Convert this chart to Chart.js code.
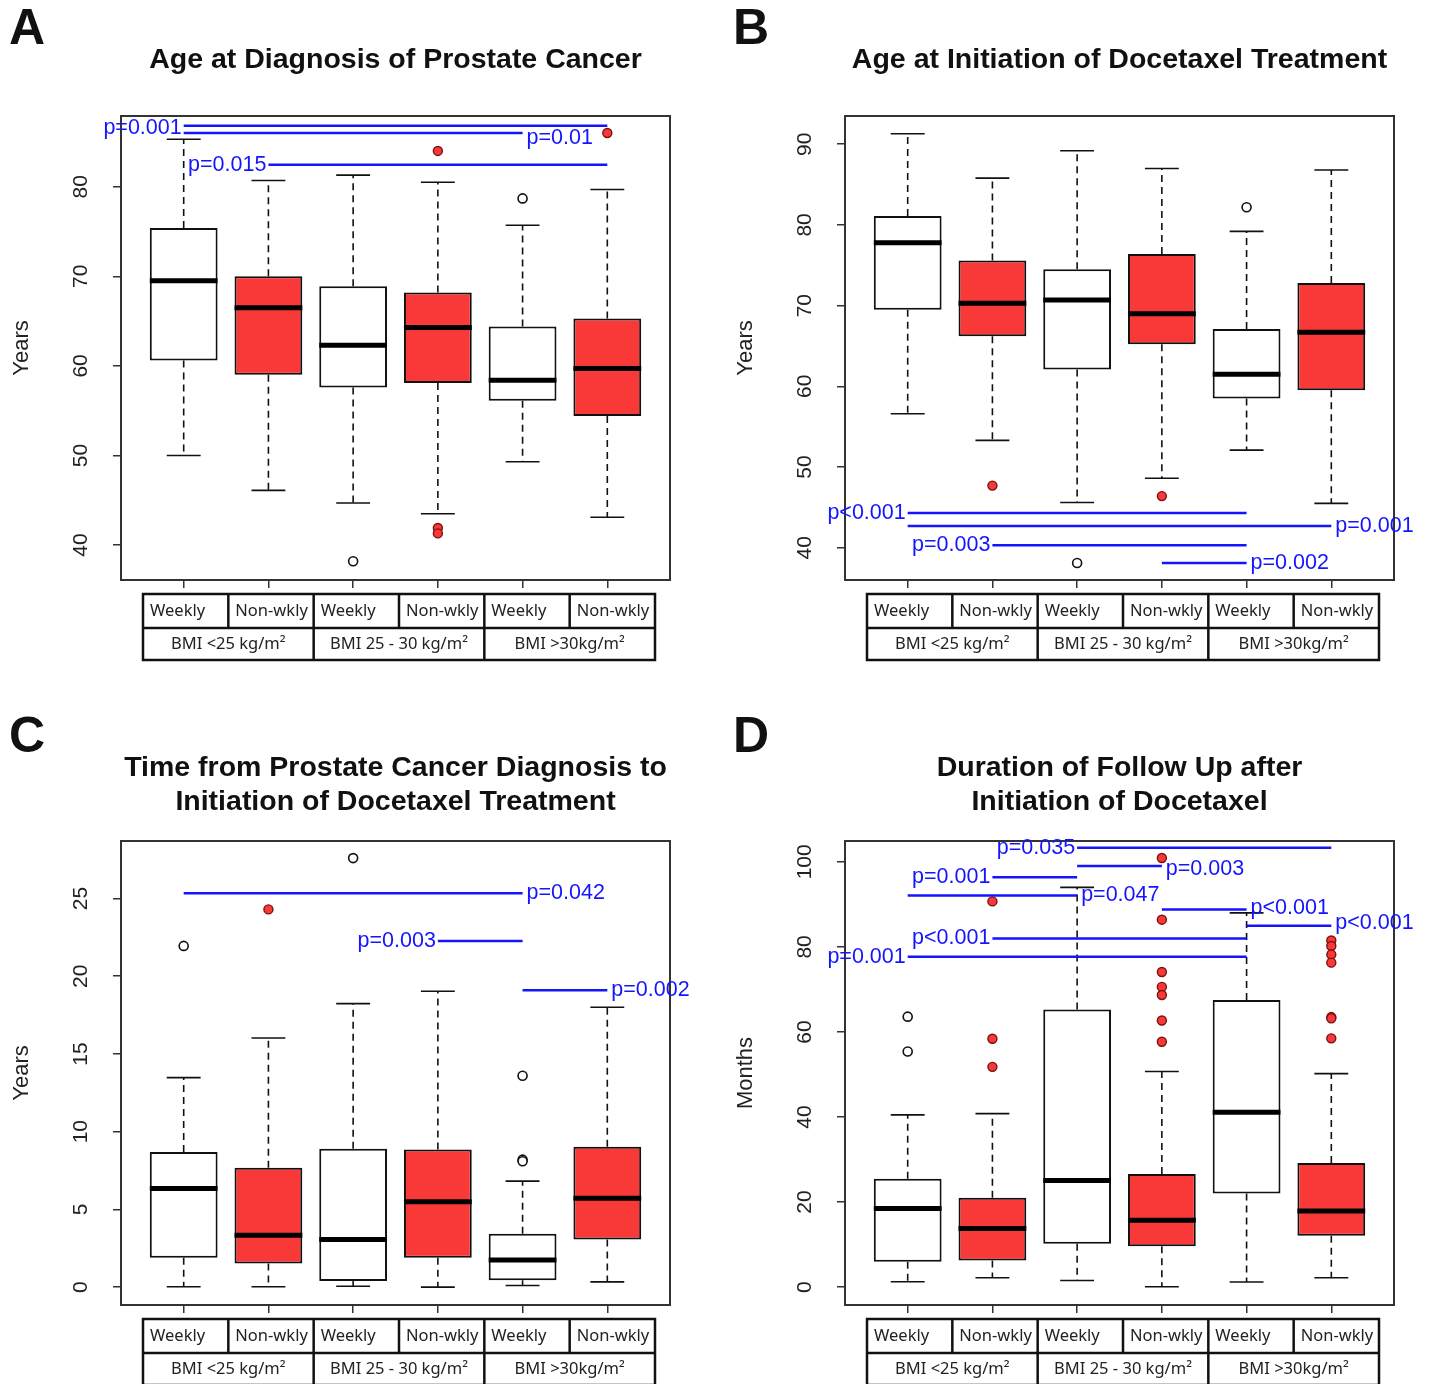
<!DOCTYPE html>
<html>
<head>
<meta charset="utf-8">
<script src="https://cdn.jsdelivr.net/npm/chart.js@4.4.1/dist/chart.umd.min.js"></script>
<style>
  html, body { margin: 0; padding: 0; background: #fff; }
  body { position: relative; width: 1429px; height: 1384px; overflow: hidden; }
  canvas { position: absolute; }
</style>
</head>
<body>
<canvas id="panelA" width="715" height="692" style="left:0;top:0"></canvas>
<canvas id="panelB" width="714" height="692" style="left:715px;top:0"></canvas>
<canvas id="panelC" width="715" height="692" style="left:0;top:692px"></canvas>
<canvas id="panelD" width="714" height="692" style="left:715px;top:692px"></canvas>
<script>
// groups along the x axis
const groups = ["Weekly", "Non-wkly", "Weekly", "Non-wkly", "Weekly", "Non-wkly"];
const bmiClasses = ["BMI <25 kg/m²", "BMI 25 - 30 kg/m²", "BMI >30kg/m²"];
const positions = [1, 2, 3, 4, 5, 6];

// A - age at diagnosis
const ageDxLower = [50.0, 46.1, 44.7, 43.5, 49.3, 43.1];
const ageDxQ1 = [60.6, 59.0, 57.6, 58.1, 56.1, 54.4];
const ageDxMedian = [69.5, 66.5, 62.3, 64.3, 58.4, 59.7];
const ageDxQ3 = [75.4, 70.0, 68.9, 68.2, 64.4, 65.3];
const ageDxUpper = [85.3, 80.7, 81.3, 80.5, 75.7, 79.7];
const ageDxOutliers = [[], [], [38.2], [84.0, 41.9, 41.3], [78.7], [86.0]];
const ageDxTicks = [40, 50, 60, 70, 80];
// [y, from, to, label, side, labelY]
const ageDxPvalues = [
  [86.8, 1, 6, "p=0.001", "left", 86.6],
  [86.0, 1, 5, "p=0.01", "right", 85.4],
  [82.45, 2, 6, "p=0.015", "left", 82.45]
];

// B - age at docetaxel
const ageDocLower = [56.6, 53.3, 45.6, 48.6, 52.1, 45.5];
const ageDocQ1 = [69.5, 66.2, 62.1, 65.2, 58.5, 59.5];
const ageDocMedian = [77.8, 70.3, 70.7, 69.0, 61.5, 66.7];
const ageDocQ3 = [81.1, 75.6, 74.5, 76.4, 67.1, 72.8];
const ageDocUpper = [91.3, 85.8, 89.2, 87.0, 79.2, 86.8];
const ageDocOutliers = [[], [47.7], [38.1], [46.4], [82.2], []];
const ageDocTicks = [40, 50, 60, 70, 80, 90];
const ageDocPvalues = [
  [44.3, 1, 5, "p<0.001", "left", 44.3],
  [42.7, 1, 6, "p=0.001", "right", 42.7],
  [40.3, 2, 5, "p=0.003", "left", 40.3],
  [38.1, 4, 5, "p=0.002", "right", 38.1]
];

// C - time from diagnosis to docetaxel
const timeLower = [0.02, 0.02, 0.06, 0.0, 0.1, 0.34];
const timeQ1 = [1.89, 1.52, 0.39, 1.89, 0.45, 3.07];
const timeMedian = [6.35, 3.33, 3.07, 5.49, 1.74, 5.71];
const timeQ3 = [8.69, 7.68, 8.9, 8.86, 3.43, 9.03];
const timeUpper = [13.48, 16.03, 18.24, 19.03, 6.82, 18.0];
const timeOutliers = [[21.95], [24.3], [27.6], [], [8.2, 8.1, 13.6], []];
const timeTicks = [0, 5, 10, 15, 20, 25];
const timePvalues = [
  [25.34, 1, 5, "p=0.042", "right", 25.34],
  [22.27, 4, 5, "p=0.003", "left", 22.27],
  [19.1, 5, 6, "p=0.002", "right", 19.1]
];

// D - follow up
const followLower = [1.25, 2.2, 1.57, 0.08, 1.2, 2.2];
const followQ1 = [5.96, 6.27, 10.2, 9.6, 22.0, 12.1];
const followMedian = [18.5, 13.8, 25.1, 15.7, 41.1, 17.9];
const followQ3 = [25.5, 21.0, 65.3, 26.6, 67.5, 29.2];
const followUpper = [40.5, 40.8, 94.0, 50.7, 88.0, 50.2];
const followOutliers = [[63.6, 55.4], [58.4, 51.8, 90.7], [], [100.9, 86.4, 74.1, 70.6, 68.7, 62.7, 57.7], [], [81.5, 80.2, 78.2, 76.3, 63.5, 63.2, 58.5]];
const followTicks = [0, 20, 40, 60, 80, 100];
const followPvalues = [
  [103.3, 3, 6, "p=0.035", "left", 103.3],
  [99.0, 3, 4, "p=0.003", "right", 98.4],
  [96.4, 2, 3, "p=0.001", "left", 96.4],
  [92.1, 1, 3, "p=0.047", "right", 92.1],
  [88.8, 4, 5, "p<0.001", "right", 89.2],
  [85.0, 5, 6, "p<0.001", "right", 85.5],
  [82.0, 2, 5, "p<0.001", "left", 82.0],
  [77.7, 1, 5, "p=0.001", "left", 77.7]
];

const RED = "#f93838";
const BLUE = "#1414ff";

function segs(list) {
  // list of [x1, y1, x2, y2] -> line data with gaps
  const out = [];
  list.forEach(s => {
    out.push({ x: s[0], y: s[1] }, { x: s[2], y: s[3] }, { x: s[2], y: null });
  });
  return out;
}

const panelDecor = {
  id: "panelDecor",
  afterDraw(chart) {
    const o = chart.options.plugins.panelDecor;
    const ctx = chart.ctx;
    const ca = chart.chartArea;
    const y = chart.scales.y;
    const x = chart.scales.x;
    ctx.save();

    // frame
    ctx.strokeStyle = "#333";
    ctx.lineWidth = 2;
    ctx.strokeRect(ca.left, ca.top, ca.right - ca.left, ca.bottom - ca.top);

    // y tick labels, rotated like R
    ctx.fillStyle = "#222";
    ctx.font = "21px 'Liberation Sans', Arial, sans-serif";
    ctx.textAlign = "center";
    ctx.textBaseline = "middle";
    o.ticks.forEach(v => {
      ctx.save();
      ctx.translate(ca.left - 40, y.getPixelForValue(v));
      ctx.rotate(-Math.PI / 2);
      ctx.fillText(String(v), 0, 0);
      ctx.restore();
    });

    // y title
    ctx.save();
    ctx.font = "22px 'Liberation Sans', Arial, sans-serif";
    ctx.translate(ca.left - 99, (ca.top + ca.bottom) / 2);
    ctx.rotate(-Math.PI / 2);
    ctx.fillText(o.yTitle, 0, 0);
    ctx.restore();

    // title
    ctx.fillStyle = "#111";
    ctx.font = "bold 28.5px 'Liberation Sans', Arial, sans-serif";
    const cx = (ca.left + ca.right) / 2;
    const offs = o.title.length === 1 ? [-56] : [-73, -39];
    o.title.forEach((t, i) => ctx.fillText(t, cx, ca.top + offs[i]));

    // panel letter
    ctx.font = "bold 50px 'Liberation Sans', Arial, sans-serif";
    ctx.textAlign = "left";
    ctx.fillText(o.letter, o.letterX, o.letterY);

    // p values
    ctx.fillStyle = BLUE;
    ctx.font = "21.5px 'Liberation Sans', Arial, sans-serif";
    o.pvalues.forEach(p => {
      const py = y.getPixelForValue(p[5]);
      if (p[4] === "left") {
        ctx.textAlign = "right";
        ctx.fillText(p[3], x.getPixelForValue(p[1]) - 2, py);
      } else {
        ctx.textAlign = "left";
        ctx.fillText(p[3], x.getPixelForValue(p[2]) + 4, py);
      }
    });

    // group table under the axis
    const tl = ca.left + 22, tr = ca.right - 15;
    const r0 = ca.bottom + 14, r1 = ca.bottom + 48, r2 = ca.bottom + 80;
    const cw = (tr - tl) / 6;
    ctx.strokeStyle = "#111";
    ctx.lineWidth = 2.5;
    ctx.strokeRect(tl, r0, tr - tl, r2 - r0);
    ctx.beginPath();
    ctx.moveTo(tl, r1); ctx.lineTo(tr, r1);
    for (let i = 1; i < 6; i++) {
      const xx = tl + cw * i;
      ctx.moveTo(xx, r0);
      ctx.lineTo(xx, i % 2 === 0 ? r2 : r1);
    }
    ctx.stroke();
    ctx.fillStyle = "#222";
    ctx.font = "16.5px 'Noto Sans', 'Open Sans', sans-serif";
    ctx.textAlign = "left";
    groups.forEach((g, i) => ctx.fillText(g, tl + cw * i + 7, (r0 + r1) / 2));
    ctx.textAlign = "center";
    bmiClasses.forEach((b, i) => ctx.fillText(b, tl + cw * (2 * i + 1), (r1 + r2) / 2));

    ctx.restore();
  }
};

function makePanel(id, d) {
  const fills = positions.map((_, i) => (i % 2 === 0 ? "#ffffff" : RED));
  const whiskers = [], caps = [], medians = [];
  positions.forEach((p, i) => {
    whiskers.push([p, d.q3[i], p, d.upper[i]], [p, d.q1[i], p, d.lower[i]]);
    caps.push([p - 0.2, d.upper[i], p + 0.2, d.upper[i]], [p - 0.2, d.lower[i], p + 0.2, d.lower[i]]);
    medians.push([p - 0.4, d.median[i], p + 0.4, d.median[i]]);
  });
  const openPts = [], redPts = [];
  d.outliers.forEach((vals, i) => {
    vals.forEach(v => (i % 2 === 0 ? openPts : redPts).push({ x: positions[i], y: v }));
  });
  const pLines = d.pvalues.map(p => [p[1], p[0], p[2], p[0]]);

  new Chart(document.getElementById(id), {
    type: "bar",
    data: {
      datasets: [
        {
          type: "line", data: segs(pLines), borderColor: BLUE, borderWidth: 2.5,
          pointRadius: 0, spanGaps: false, order: 1
        },
        {
          type: "scatter", data: openPts, backgroundColor: "#fff", borderColor: "#111",
          borderWidth: 1.6, pointRadius: 4.5, order: 2
        },
        {
          type: "scatter", data: redPts, backgroundColor: RED, borderColor: "#7a1010",
          borderWidth: 1.4, pointRadius: 4.5, order: 2
        },
        {
          type: "line", data: segs(medians), borderColor: "#000", borderWidth: 5,
          borderCapStyle: "butt", pointRadius: 0, spanGaps: false, order: 3
        },
        {
          type: "line", data: segs(caps), borderColor: "#111", borderWidth: 1.6,
          pointRadius: 0, spanGaps: false, order: 3
        },
        {
          type: "line", data: segs(whiskers), borderColor: "#111", borderWidth: 1.6,
          borderDash: [7, 5], pointRadius: 0, spanGaps: false, order: 4
        },
        {
          type: "bar",
          data: positions.map((p, i) => ({ x: p, y: [d.q1[i], d.q3[i]] })),
          backgroundColor: fills, borderColor: "#111", borderWidth: 2,
          borderSkipped: false, barPercentage: 1, categoryPercentage: 0.8, order: 5
        }
      ]
    },
    options: {
      responsive: false,
      animation: false,
      events: [],
      layout: { padding: d.padding, autoPadding: false },
      plugins: {
        legend: { display: false },
        tooltip: { enabled: false },
        panelDecor: {
          ticks: d.ticks, yTitle: d.yTitle, title: d.title, letter: d.letter,
          letterX: d.letterX, letterY: d.letterY, pvalues: d.pvalues
        }
      },
      scales: {
        x: {
          type: "linear", min: 0.26, max: 6.74, offset: false,
          afterBuildTicks: s => { s.ticks = positions.map(v => ({ value: v })); },
          afterFit: s => { s.height = 10; },
          ticks: { display: false },
          border: { display: false },
          grid: { offset: false, drawOnChartArea: false, drawTicks: true, tickLength: 8, color: "#333", lineWidth: 1.5 }
        },
        y: {
          min: d.min, max: d.max,
          afterBuildTicks: s => { s.ticks = d.ticks.map(v => ({ value: v })); },
          afterFit: s => { s.width = 60; },
          ticks: { display: false },
          border: { display: false },
          grid: { drawOnChartArea: false, drawTicks: true, tickLength: 8, color: "#333", lineWidth: 1.5 }
        }
      }
    },
    plugins: [panelDecor]
  });
}

document.addEventListener("DOMContentLoaded", () => {
  makePanel("panelA", {
    lower: ageDxLower, q1: ageDxQ1, median: ageDxMedian, q3: ageDxQ3, upper: ageDxUpper,
    outliers: ageDxOutliers, ticks: ageDxTicks, pvalues: ageDxPvalues, min: 36.1, max: 87.9,
    yTitle: "Years", title: ["Age at Diagnosis of Prostate Cancer"], letter: "A",
    letterX: 9, letterY: 30, padding: { left: 61, top: 116, right: 45, bottom: 102 }
  });
  makePanel("panelB", {
    lower: ageDocLower, q1: ageDocQ1, median: ageDocMedian, q3: ageDocQ3, upper: ageDocUpper,
    outliers: ageDocOutliers, ticks: ageDocTicks, pvalues: ageDocPvalues, min: 36.0, max: 93.5,
    yTitle: "Years", title: ["Age at Initiation of Docetaxel Treatment"], letter: "B",
    letterX: 18, letterY: 30, padding: { left: 70, top: 116, right: 35, bottom: 102 }
  });
  makePanel("panelC", {
    lower: timeLower, q1: timeQ1, median: timeMedian, q3: timeQ3, upper: timeUpper,
    outliers: timeOutliers, ticks: timeTicks, pvalues: timePvalues, min: -1.15, max: 28.7,
    yTitle: "Years", title: ["Time from Prostate Cancer Diagnosis to", "Initiation of Docetaxel Treatment"],
    letter: "C", letterX: 9, letterY: 46, padding: { left: 61, top: 149, right: 45, bottom: 69 }
  });
  makePanel("panelD", {
    lower: followLower, q1: followQ1, median: followMedian, q3: followQ3, upper: followUpper,
    outliers: followOutliers, ticks: followTicks, pvalues: followPvalues, min: -4.2, max: 104.9,
    yTitle: "Months", title: ["Duration of Follow Up after", "Initiation of Docetaxel"],
    letter: "D", letterX: 18, letterY: 46, padding: { left: 70, top: 149, right: 35, bottom: 69 }
  });
});
</script>
</body>
</html>
